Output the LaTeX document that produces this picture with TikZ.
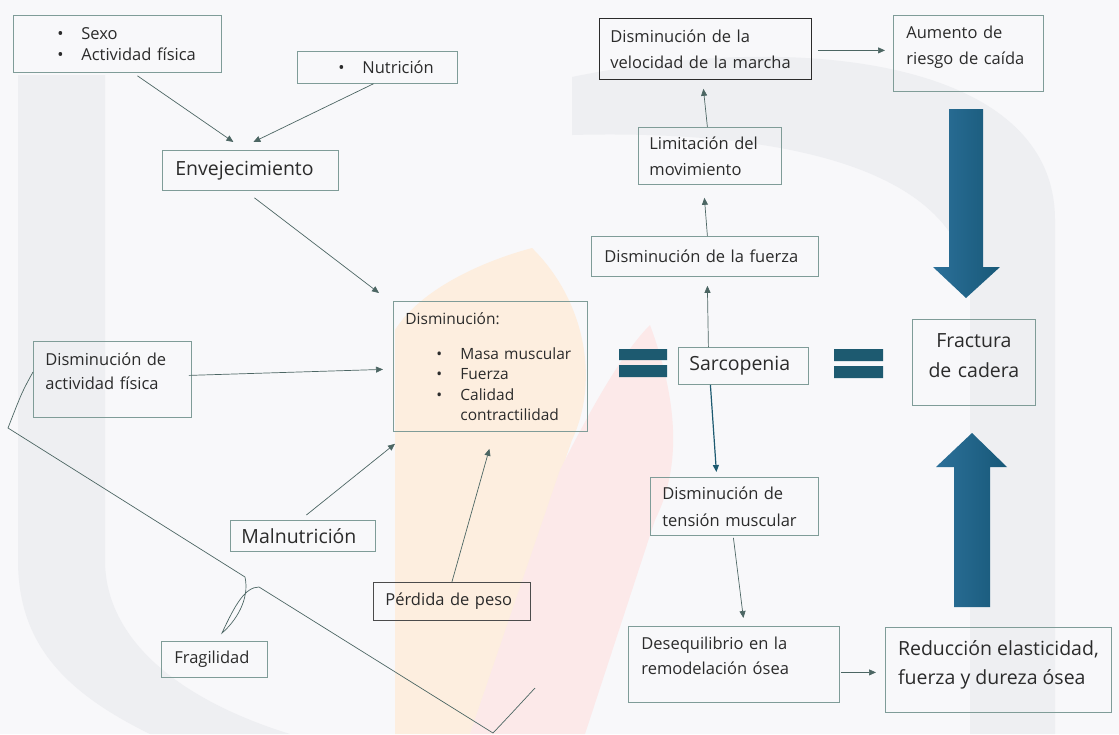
\documentclass[tikz,border=0pt]{standalone}
\usepackage{fontspec}
\setmainfont{Open Sans}
\usetikzlibrary{arrows.meta}
\definecolor{boxline}{HTML}{7F9C98}
\definecolor{ink}{HTML}{2B2B2B}
\definecolor{conncol}{HTML}{4C6663}
\definecolor{bigdark}{HTML}{175878}
\definecolor{biglight}{HTML}{2C7099}
\definecolor{eqcol}{HTML}{1D5A70}
\definecolor{bgcol}{HTML}{F8F8FA}
\definecolor{wmgray}{HTML}{EEEFF2}
\definecolor{wmorange}{HTML}{FDEEDF}
\definecolor{wmred}{HTML}{FCE9E9}
\tikzset{
  box/.style={draw=boxline, line width=0.8pt, anchor=north west, align=left, text=ink, inner xsep=12pt, inner ysep=0pt},
  txt/.style={font=\fontsize{16.5}{26}\selectfont},
  bigtxt/.style={font=\fontsize{19.5}{30}\selectfont},
  conn/.style={draw=conncol, line width=0.7pt, -{Triangle[length=7pt,width=6pt]}},
}
\newcommand{\itm}[1]{\makebox[24pt][l]{\textbullet}#1}
\begin{document}
\begin{tikzpicture}[x=1pt,y=-1pt]
\fill[bgcol] (0,0) rectangle (1119,734);
\useasboundingbox (0,0) rectangle (1119,734);
% marca de agua
\fill[wmgray] (18,75) -- (105,75) -- (105,560) .. controls (105,640) and (180,700) .. (290,734) -- (150,734) .. controls (60,690) and (18,640) .. (18,560) -- cycle;
\fill[wmgray] (572,77) .. controls (800,30) and (1055,60) .. (1055,220) -- (1055,734) -- (970,734) -- (970,290) .. controls (960,160) and (760,130) .. (572,135) -- cycle;
\fill[wmorange] (395,734) -- (395,330) .. controls (420,290) and (480,262) .. (532,248) .. controls (585,300) and (600,380) .. (572,440) -- (470,734) -- cycle;
\fill[wmred] (470,734) -- (560,470) .. controls (595,400) and (625,350) .. (650,325) .. controls (685,420) and (675,480) .. (655,520) -- (585,734) -- cycle;

% cajas
\node[box, txt, font=\fontsize{16.5}{21}\selectfont, minimum width=208pt, minimum height=57pt, text width=184pt] (sexo) at (13,15)
  {\hspace*{32pt}\itm{Sexo}\\\hspace*{32pt}\itm{Actividad física}};
\node[box, txt, minimum width=160pt, minimum height=32pt, text width=136pt] (nutri) at (297,51)
  {\hspace*{29pt}\itm{Nutrición}};
\node[box, bigtxt, inner xsep=13pt, minimum width=176pt, minimum height=40pt, text width=150pt] (envej) at (162,150) {Envejecimiento};
\node[box, txt, draw=ink, inner xsep=11pt, minimum width=212pt, minimum height=61pt, text width=190pt] (veloc) at (599,18)
  {Disminución de la\\velocidad de la marcha};
\node[box, txt, inner xsep=13pt, minimum width=150pt, minimum height=76pt, text width=124pt] (aumento) at (893,15)
  {Aumento de\\riesgo de caída\rule[-16pt]{0pt}{1pt}};
\node[box, txt, inner xsep=11pt, minimum width=143pt, minimum height=57pt, text width=121pt] (limit) at (638,127)
  {Limitación del\\movimiento};
\node[box, txt, inner xsep=13pt, minimum width=227pt, minimum height=40pt, text width=201pt] (fuerza) at (591,236)
  {Disminución de la fuerza};
\node[box, font=\fontsize{15.5}{20.5}\selectfont, inner xsep=12pt, minimum width=194pt, minimum height=130pt, text width=170pt] (dismin) at (393,301)
  {Disminución:\\[14.5pt]
   \hspace*{31pt}\itm{Masa muscular}\\
   \hspace*{31pt}\itm{Fuerza}\\
   \hspace*{31pt}\itm{Calidad}\\
   \hspace*{55pt}contractilidad};
\node[box, bigtxt, inner xsep=11pt, minimum width=130pt, minimum height=37pt, text width=108pt] (sarc) at (678,347) {Sarcopenia};
\node[box, bigtxt, align=center, inner xsep=6pt, minimum width=123pt, minimum height=86pt, text width=111pt] (fract) at (912,319)
  {Fractura\\de cadera\rule[-14pt]{0pt}{1pt}};
\node[box, txt, font=\fontsize{16.5}{24}\selectfont, inner xsep=12pt, minimum width=158pt, minimum height=76pt, text width=134pt] (actfis) at (33,341)
  {Disminución de\\actividad física\rule[-16pt]{0pt}{1pt}};
\node[box, bigtxt, inner xsep=11pt, minimum width=145pt, minimum height=31pt, text width=123pt] (malnut) at (230,520) {Malnutrición};
\node[box, txt, draw=ink!85, inner xsep=12pt, minimum width=157pt, minimum height=38pt, text width=133pt] (perdida) at (373,582) {Pérdida de peso};
\node[box, txt, inner xsep=13pt, minimum width=106pt, minimum height=36pt, text width=80pt] (fragil) at (161,641) {Fragilidad};
\node[box, txt, font=\fontsize{16.5}{27}\selectfont, inner xsep=12pt, minimum width=168pt, minimum height=58pt, text width=144pt] (tension) at (650,477)
  {Disminución de\\tensión muscular};
\node[box, txt, font=\fontsize{16.5}{25}\selectfont, inner xsep=13pt, minimum width=211pt, minimum height=76pt, text width=185pt] (deseq) at (628,626)
  {Desequilibrio en la\\remodelación ósea\rule[-17pt]{0pt}{1pt}};
\node[box, font=\fontsize{19.5}{29}\selectfont, inner xsep=8pt, minimum width=226pt, minimum height=85pt] (reduc) at (885,627)
  {Reducción elasticidad,\\fuerza y dureza ósea\rule[-14pt]{0pt}{1pt}};

% flechas
\draw[conn] ([xshift=20pt,yshift=-3pt]sexo.south) -- ([xshift=-17pt,yshift=8pt]envej.north);
\draw[conn] ([xshift=-4pt]nutri.south) -- ([xshift=3pt,yshift=8pt]envej.north);
\draw[conn] ([xshift=4pt,yshift=-7pt]envej.south) -- ([xshift=-14pt,yshift=8pt]dismin.north west);
\draw[conn] ([xshift=-3pt,yshift=4pt]actfis.east) -- ([xshift=-10pt,yshift=-3pt]dismin.west);
\draw[conn] ([xshift=3.5pt,yshift=5pt]malnut.north) -- ([xshift=2pt,yshift=-12pt]dismin.south west);
\draw[conn] (perdida.north) -- ([xshift=-1pt,yshift=-17pt]dismin.south);
\draw[conn] ([xshift=-35pt]sarc.north) -- ([xshift=2.5pt,yshift=-9pt]fuerza.south);
\draw[conn] ([xshift=2.5pt]fuerza.north) -- ([xshift=-5.5pt,yshift=-13pt]limit.south);
\draw[conn] ([xshift=-2.5pt]limit.north) -- ([xshift=-2pt,yshift=-9pt]veloc.south);
\draw[conn] ([xshift=6pt,yshift=-1.5pt]veloc.east) -- ([xshift=-8pt,yshift=3pt]aumento.west);
\draw[conn, draw=eqcol, line width=1.2pt] ([xshift=-33pt]sarc.south) -- ([xshift=-18pt,yshift=5pt]tension.north);
\draw[conn] ([xshift=-1pt,yshift=-2pt]tension.south) -- ([xshift=9.5pt,yshift=8pt]deseq.north);
\draw[conn] ([xshift=1pt,yshift=-8pt]deseq.east) -- ([xshift=-9pt,yshift=-2.5pt]reduc.west);

% llave de fragilidad
\draw[conncol, line width=0.7pt] (33,372) .. controls (22,392) .. (8,428) -- (245,577)
  .. controls (250,600) and (235,622) .. (222,633) .. controls (235,605) and (245,587) .. (259,587)
  -- (493,733) .. controls (510,715) .. (535,688);

% signos igual
\fill[eqcol] (619,349) rectangle (667,360) (619,365) rectangle (667,377);
\fill[eqcol] (834,349) rectangle (883,361) (834,366) rectangle (883,378);

% flechas grandes
\shade[left color=biglight, right color=bigdark] (949,109) -- (983,109) -- (983,267) -- (1000,267) -- (966,298) -- (933,267) -- (949,267) -- cycle;
\shade[left color=biglight, right color=bigdark] (954,607) -- (990,607) -- (990,467) -- (1007,467) -- (972,433) -- (936,467) -- (954,467) -- cycle;
\end{tikzpicture}
\end{document}
